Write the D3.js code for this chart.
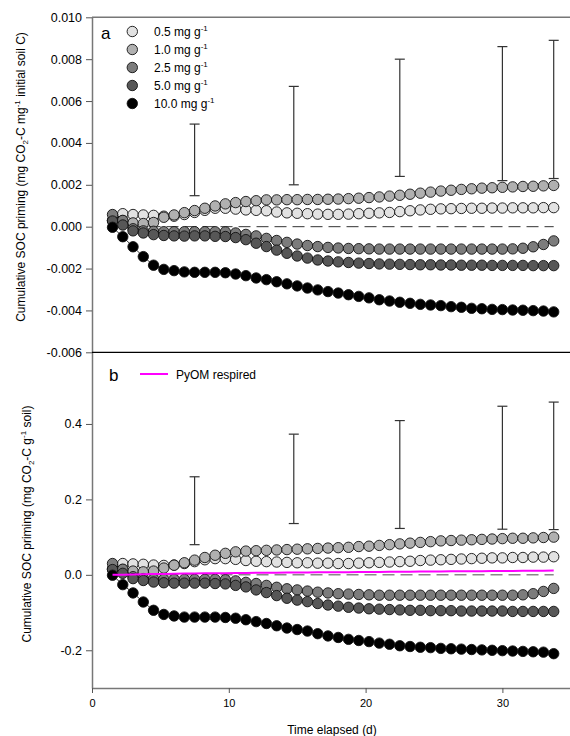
<!DOCTYPE html>
<html>
<head>
<meta charset="utf-8">
<script src="https://cdnjs.cloudflare.com/ajax/libs/d3/7.8.5/d3.min.js"></script>
<style>
body { margin: 0; background: #fff; }
text { font-family: "Liberation Sans", Arial, sans-serif; fill: #000; }
</style>
</head>
<body>
<script>
// sampling times (d)
var days = [1.5, 2.25, 3, 3.75, 4.5, 5.25, 6, 6.75, 7.5, 8.25, 9, 9.75, 10.5, 11.25, 12, 12.75,
  13.5, 14.25, 15, 15.75, 16.5, 17.25, 18, 18.75, 19.5, 20.25, 21, 21.75, 22.5, 23.25, 24, 24.75,
  25.5, 26.25, 27, 27.75, 28.5, 29.25, 30, 30.75, 31.5, 32.25, 33, 33.75];

var doses = ["0.5", "1.0", "2.5", "5.0", "10.0"];
var fills = ["#e2e2e2", "#b0b0b0", "#7c7c7c", "#575757", "#000000"];

// panel a: mg CO2-C per mg initial soil C
var a05 = [0.0003, 0.00062, 0.00058, 0.00056, 0.00054, 0.0005, 0.0005, 0.00058, 0.00068, 0.00078, 0.00088,
  0.00088, 0.00084, 0.0008, 0.00078, 0.00076, 0.0007, 0.00066, 0.00064, 0.00062, 0.0006, 0.00059, 0.00059,
  0.0006, 0.00062, 0.00064, 0.00066, 0.00068, 0.00072, 0.00076, 0.0008, 0.00083, 0.00085, 0.00086, 0.00087,
  0.00088, 0.00088, 0.00089, 0.00089, 0.0009, 0.0009, 0.0009, 0.00091, 0.00091];
var a10 = [0.0003, 0.00029, 0.00018, 0.00015, 0.0002, 0.00045, 0.00056, 0.00067, 0.00077, 0.00088, 0.00099,
  0.00109, 0.00115, 0.0012, 0.00124, 0.00128, 0.00128, 0.00129, 0.00129, 0.0013, 0.0013, 0.00131, 0.00132,
  0.00134, 0.00136, 0.00139, 0.00142, 0.00146, 0.0015, 0.00155, 0.0016, 0.00165, 0.0017, 0.00174, 0.00178,
  0.00181, 0.00184, 0.00186, 0.00188, 0.0019, 0.00192, 0.00193, 0.00195, 0.00197];
var a25 = [0.00058, 0.0003, -0.0001, -0.0002, -0.00022, -0.00024, -0.00024, -0.00024, -0.00024, -0.00024,
  -0.00024, -0.00025, -0.0003, -0.00037, -0.00044, -0.00056, -0.00066, -0.00075, -0.00083, -0.0009, -0.00095,
  -0.00099, -0.00102, -0.00104, -0.00105, -0.00106, -0.00107, -0.00107, -0.00107, -0.00107, -0.00107,
  -0.00107, -0.00107, -0.00107, -0.00107, -0.00107, -0.00107, -0.00107, -0.00107, -0.00106, -0.00103,
  -0.00096, -0.00085, -0.00068];
var a50 = [0.00027, 0.00008, -0.0002, -0.0003, -0.00038, -0.00042, -0.00044, -0.00045, -0.00044, -0.00044,
  -0.00046, -0.00047, -0.00052, -0.00062, -0.00079, -0.00095, -0.00112, -0.00127, -0.0014, -0.0015, -0.00159,
  -0.00164, -0.00168, -0.00171, -0.00174, -0.00176, -0.00178, -0.00179, -0.0018, -0.00181, -0.00182,
  -0.00182, -0.00183, -0.00183, -0.00184, -0.00184, -0.00184, -0.00185, -0.00185, -0.00185, -0.00185,
  -0.00186, -0.00186, -0.00186];
var a100 = [-0.00003, -0.00048, -0.00096, -0.00143, -0.00184, -0.00204, -0.0021, -0.00216, -0.00218, -0.00218,
  -0.00218, -0.0022, -0.00226, -0.00234, -0.00245, -0.00253, -0.00263, -0.00273, -0.00283, -0.00293, -0.00302,
  -0.0031, -0.00317, -0.00325, -0.00333, -0.0034, -0.00349, -0.00355, -0.00361, -0.00366, -0.00371, -0.00374,
  -0.00377, -0.00382, -0.00385, -0.0039, -0.00392, -0.00395, -0.00396, -0.00398, -0.00399, -0.00401,
  -0.00403, -0.00407];

// panel b: mg CO2-C per g soil
var b05 = [0.016, 0.03, 0.029, 0.028, 0.026, 0.025, 0.026, 0.03, 0.035, 0.04, 0.043, 0.043, 0.041, 0.038,
  0.036, 0.035, 0.034, 0.033, 0.032, 0.032, 0.031, 0.031, 0.03, 0.03, 0.031, 0.032, 0.033, 0.034, 0.035,
  0.036, 0.038, 0.039, 0.04, 0.041, 0.042, 0.043, 0.044, 0.045, 0.045, 0.046, 0.046, 0.047, 0.047, 0.048];
var b10 = [0.015, 0.014, 0.01, 0.008, 0.01, 0.018, 0.0255, 0.032, 0.039, 0.046, 0.052, 0.057, 0.061, 0.063,
  0.064, 0.065, 0.066, 0.067, 0.068, 0.069, 0.07, 0.071, 0.072, 0.073, 0.075, 0.076, 0.078, 0.08, 0.082,
  0.084, 0.086, 0.088, 0.09, 0.091, 0.092, 0.093, 0.094, 0.095, 0.096, 0.097, 0.097, 0.098, 0.099, 0.1];
var b25 = [0.03, 0.015, -0.005, -0.01, -0.011, -0.012, -0.012, -0.012, -0.012, -0.012, -0.012, -0.013,
  -0.016, -0.02, -0.023, -0.028, -0.033, -0.037, -0.04, -0.043, -0.046, -0.048, -0.05, -0.051, -0.052,
  -0.053, -0.054, -0.054, -0.054, -0.054, -0.054, -0.054, -0.054, -0.054, -0.054, -0.054, -0.054, -0.054,
  -0.054, -0.054, -0.053, -0.05, -0.044, -0.036];
var b50 = [0.014, 0.004, -0.01, -0.015, -0.019, -0.021, -0.022, -0.022, -0.022, -0.022, -0.023, -0.024,
  -0.028, -0.032, -0.04, -0.047, -0.055, -0.062, -0.067, -0.071, -0.076, -0.08, -0.083, -0.086, -0.088,
  -0.09, -0.091, -0.092, -0.093, -0.094, -0.094, -0.095, -0.095, -0.095, -0.096, -0.096, -0.096, -0.096,
  -0.096, -0.097, -0.097, -0.097, -0.097, -0.097];
var b100 = [-0.001, -0.026, -0.048, -0.072, -0.094, -0.105, -0.109, -0.112, -0.112, -0.112, -0.112, -0.113,
  -0.115, -0.119, -0.124, -0.129, -0.135, -0.141, -0.145, -0.149, -0.156, -0.162, -0.166, -0.171, -0.174,
  -0.177, -0.181, -0.184, -0.188, -0.19, -0.192, -0.193, -0.195, -0.196, -0.197, -0.198, -0.199, -0.2,
  -0.201, -0.202, -0.203, -0.204, -0.205, -0.209];
var pyom = [0, 0.0005, 0.001, 0.0015, 0.002, 0.0025, 0.003, 0.0033, 0.0036, 0.0039, 0.0042, 0.0045, 0.0048,
  0.005, 0.0053, 0.0055, 0.0058, 0.006, 0.0062, 0.0064, 0.0066, 0.0068, 0.007, 0.0072, 0.0074, 0.0076,
  0.0078, 0.008, 0.0082, 0.0084, 0.0086, 0.0088, 0.009, 0.0092, 0.0094, 0.0096, 0.0098, 0.01, 0.0102,
  0.0104, 0.0106, 0.0108, 0.011, 0.0112];

// error bars
var errDays = [7.5, 14.75, 22.5, 30, 33.75];
var errA = [[0.00148, 0.0049], [0.0020, 0.0067], [0.0024, 0.0080], [0.0022, 0.0086], [0.0023, 0.0089]];
var errB = [[0.08, 0.26], [0.136, 0.373], [0.123, 0.409], [0.121, 0.447], [0.12, 0.458]];

var ticksA = [-0.006, -0.004, -0.002, 0, 0.002, 0.004, 0.006, 0.008, 0.010];
var ticksB = [-0.2, 0, 0.2, 0.4];
var ticksX = [0, 10, 20, 30];

var w = 570, h = 736;
var left = 92, right = 571;

var svg = d3.select("body").append("svg")
  .attr("width", w).attr("height", h);

var x = d3.scaleLinear().domain([0, 35]).range([left, left + 35 * 13.68]);
var yA = d3.scaleLinear().domain([-0.006, 0.010]).range([352.3, 17.3]);
var yB = d3.scaleLinear().domain([-0.3, 0.59]).range([688, 352.3]);

function fmt(n) {
  return function(v) { return v.toFixed(n).replace("\u2212", "-"); };
}

function drawAxisY(scale, ticks, f) {
  var g = svg.append("g")
    .attr("transform", "translate(" + left + ",0)")
    .call(d3.axisLeft(scale).tickValues(ticks).tickFormat(f).tickSize(6).tickSizeOuter(0));
  g.select(".domain").attr("stroke", "#777").attr("stroke-width", 1.5);
  g.selectAll(".tick line").attr("stroke", "#555");
  g.selectAll(".tick text").attr("font-size", 12.5).attr("x", -10)
    .attr("font-family", "Liberation Sans, Arial, sans-serif");
  return g;
}

function drawPanel(scale, series, err, dashColor, dashWidth) {
  // zero reference
  svg.append("line")
    .attr("x1", x(days[0])).attr("x2", x(days[days.length - 1]))
    .attr("y1", scale(0)).attr("y2", scale(0))
    .attr("stroke", dashColor).attr("stroke-width", dashWidth)
    .attr("stroke-dasharray", "12,6");

  series.forEach(function(s, k) {
    var line = d3.line()
      .x(function(d, i) { return x(days[i]); })
      .y(function(d) { return scale(d); });
    svg.append("path").datum(s)
      .attr("d", line).attr("fill", "none")
      .attr("stroke", "#000").attr("stroke-width", 0.8);
    svg.append("g").selectAll("circle")
      .data(s).enter().append("circle")
      .attr("cx", function(d, i) { return x(days[i]); })
      .attr("cy", function(d) { return scale(d); })
      .attr("r", 5.2)
      .attr("fill", fills[k])
      .attr("stroke", "#111").attr("stroke-width", 0.9);
  });

  var eb = svg.append("g").attr("stroke", "#333").attr("stroke-width", 1.2);
  err.forEach(function(e, i) {
    var cx = x(errDays[i]);
    eb.append("line").attr("x1", cx).attr("x2", cx)
      .attr("y1", scale(e[0])).attr("y2", scale(e[1]));
    eb.append("line").attr("x1", cx - 5).attr("x2", cx + 5)
      .attr("y1", scale(e[0])).attr("y2", scale(e[0]));
    eb.append("line").attr("x1", cx - 5).attr("x2", cx + 5)
      .attr("y1", scale(e[1])).attr("y2", scale(e[1]));
  });
}

// frame lines
svg.append("line").attr("x1", left).attr("x2", right).attr("y1", 17.3).attr("y2", 17.3)
  .attr("stroke", "#777").attr("stroke-width", 1.5);

drawAxisY(yA, ticksA, fmt(3));
drawAxisY(yB, ticksB, fmt(1));

var xg = svg.append("g")
  .attr("transform", "translate(0,688)")
  .call(d3.axisBottom(x).tickValues(ticksX).tickFormat(d3.format("d")).tickSize(5).tickSizeOuter(0));
xg.select(".domain").attr("stroke", "#777").attr("stroke-width", 1.5);
xg.selectAll(".tick line").attr("stroke", "#555");
xg.selectAll(".tick text").attr("font-size", 11).attr("y", 11)
  .attr("font-family", "Liberation Sans, Arial, sans-serif");

drawPanel(yA, [a05, a10, a25, a50, a100], errA, "#333", 1);
drawPanel(yB, [b05, b10, b25, b50, b100], errB, "#888", 1.5);

// PyOM respired line in panel b, on top of the symbols
svg.append("path").datum(pyom)
  .attr("d", d3.line().x(function(d, i) { return x(days[i]); }).y(function(d) { return yB(d); }))
  .attr("fill", "none").attr("stroke", "#ff00ff").attr("stroke-width", 2);

// separator between panels
svg.append("line").attr("x1", left).attr("x2", right).attr("y1", 352.3).attr("y2", 352.3)
  .attr("stroke", "#000").attr("stroke-width", 1.3);

// panel letters
svg.append("text").attr("x", 101).attr("y", 39).attr("font-size", 17).text("a");
svg.append("text").attr("x", 109).attr("y", 381).attr("font-size", 17).text("b");

// legend a
var leg = svg.append("g");
doses.forEach(function(d, i) {
  var yy = 31.5 + i * 18;
  leg.append("circle").attr("cx", 132.3).attr("cy", yy).attr("r", 5.2)
    .attr("fill", fills[i]).attr("stroke", "#111").attr("stroke-width", 0.9);
  var t = leg.append("text").attr("x", 154).attr("y", yy + 4.5).attr("font-size", 12);
  t.append("tspan").text(d + " mg g");
  t.append("tspan").attr("font-size", 8).attr("dy", -5).text("-1");
});

// legend b
svg.append("line").attr("x1", 140).attr("x2", 168).attr("y1", 374).attr("y2", 374)
  .attr("stroke", "#ff00ff").attr("stroke-width", 2);
svg.append("text").attr("x", 176).attr("y", 378.5).attr("font-size", 12).text("PyOM respired");

// axis titles
function ytitle(cx, cy, parts) {
  var t = svg.append("text")
    .attr("transform", "translate(" + cx + "," + cy + ") rotate(-90)")
    .attr("text-anchor", "middle").attr("font-size", 12);
  parts.forEach(function(p) {
    var ts = t.append("tspan").text(p[0]);
    if (p[1] === "sub") ts.attr("font-size", 8).attr("dy", 3);
    if (p[1] === "sup") ts.attr("font-size", 8).attr("dy", -5);
    if (p[1] === "back") ts.attr("dy", p[2]);
  });
}
ytitle(25, 177, [["Cumulative SOC priming (mg CO"], ["2", "sub"], ["-C mg", "back", -3],
  ["-1", "sup"], [" initial soil C)", "back", 5]]);
ytitle(31, 524, [["Cumulative SOC priming (mg CO"], ["2", "sub"], ["-C g", "back", -3],
  ["-1", "sup"], [" soil)", "back", 5]]);

svg.append("text").attr("x", 332).attr("y", 734).attr("text-anchor", "middle")
  .attr("font-size", 12).text("Time elapsed (d)");
</script>
</body>
</html>
